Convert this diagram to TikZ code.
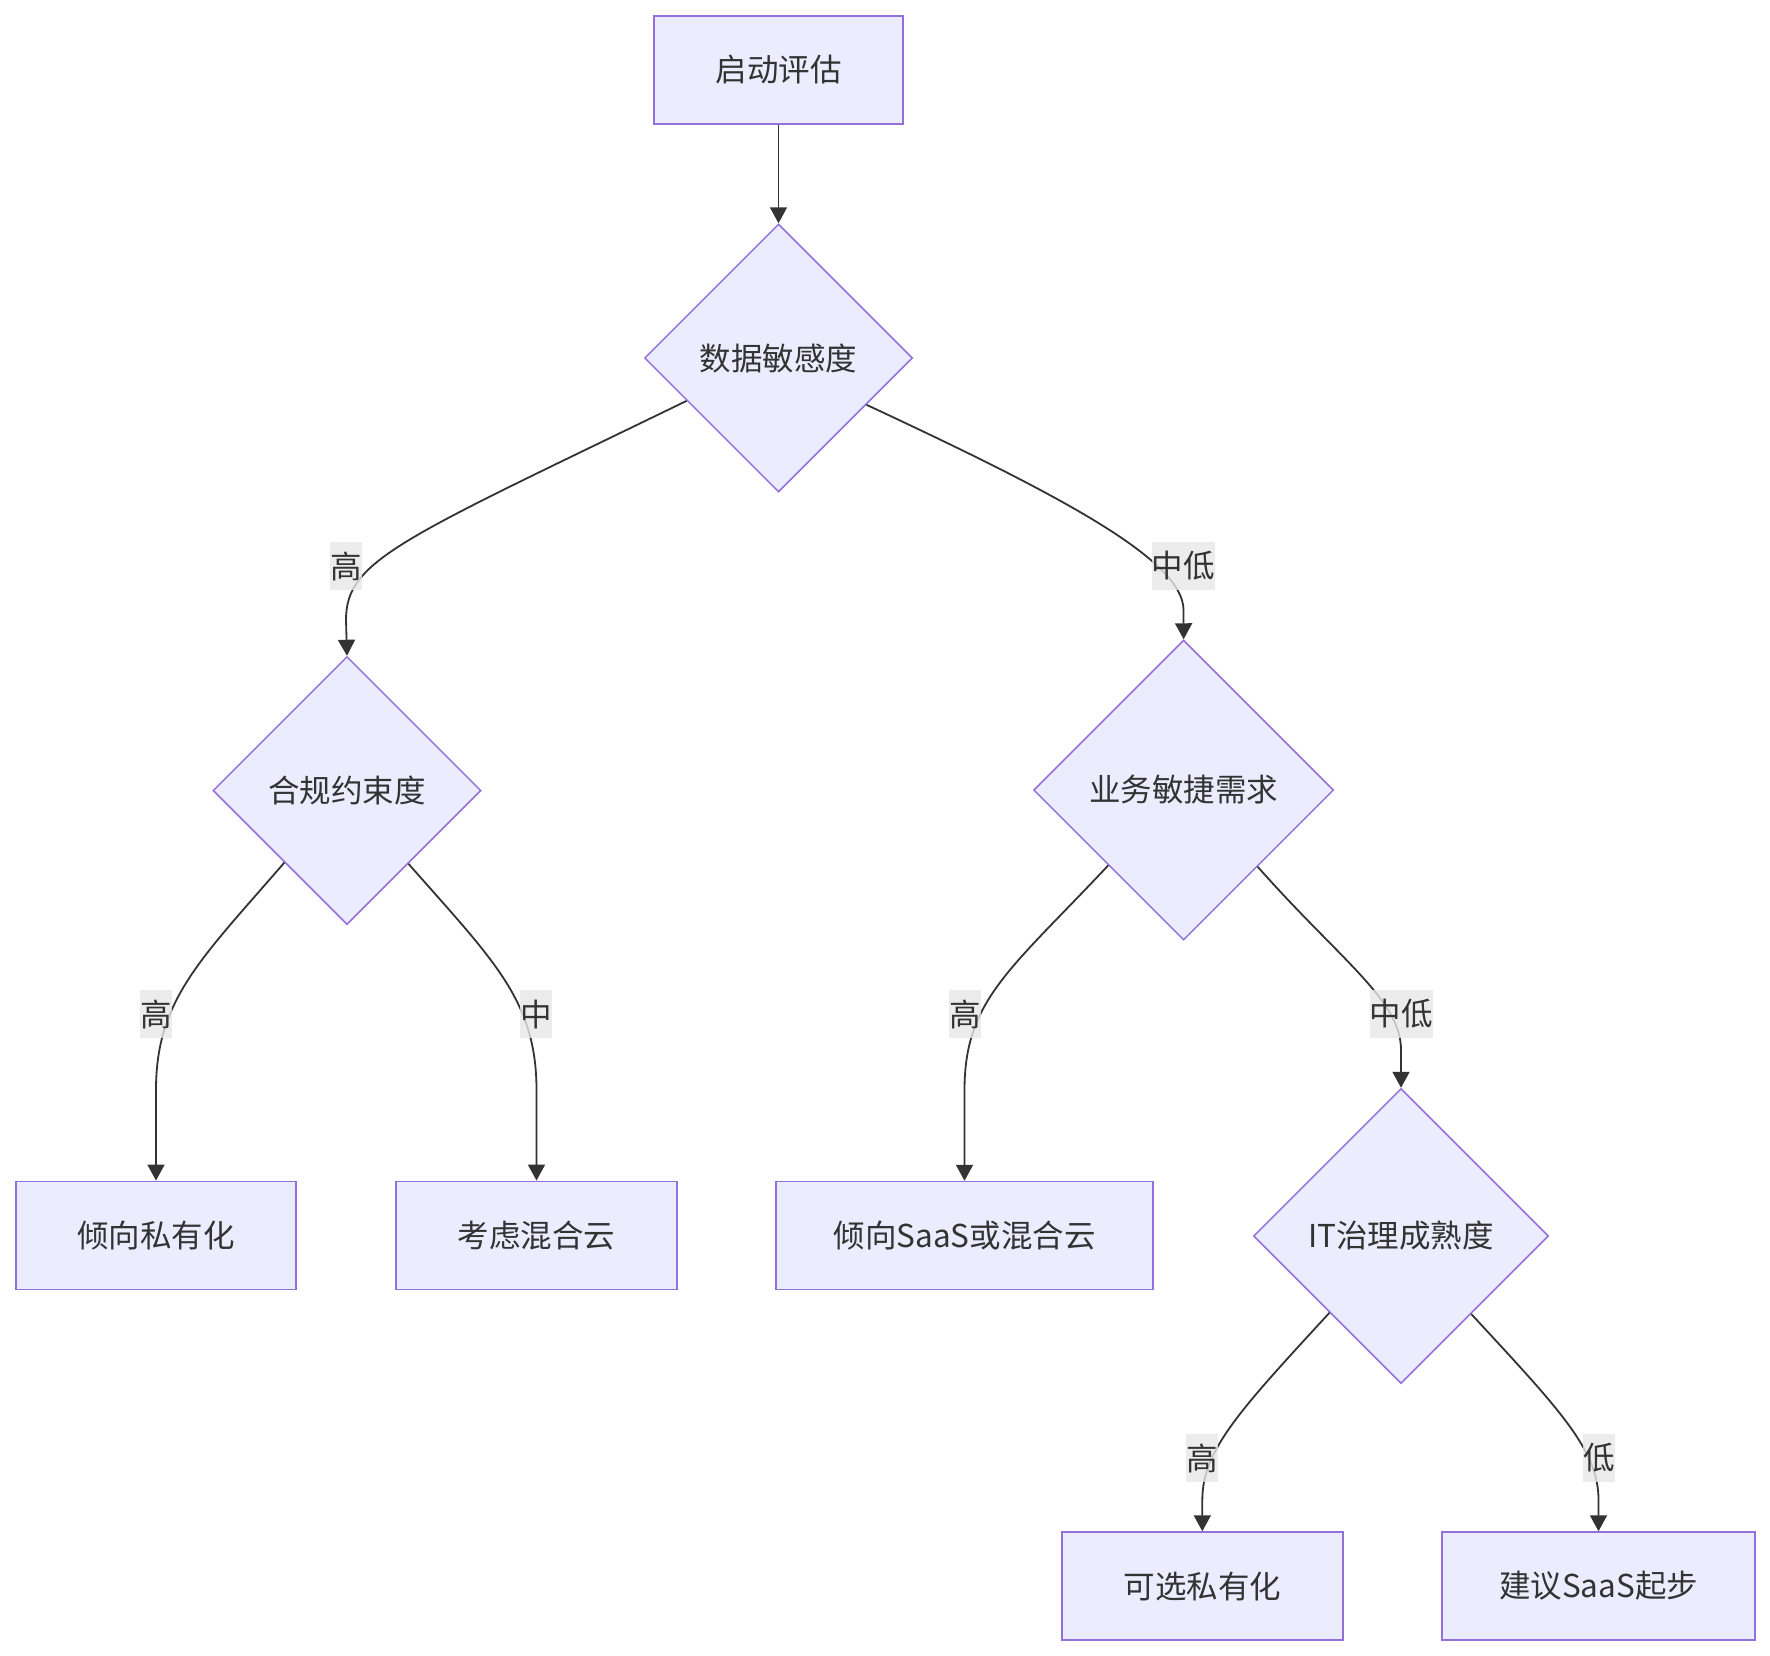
\documentclass[tikz,border=0pt]{standalone}
\usepackage{fontspec}
\setmainfont{Noto Sans CJK SC}
\usetikzlibrary{shapes.geometric,arrows.meta}
\definecolor{nodefill}{HTML}{ECECFF}
\definecolor{nodeline}{HTML}{9370DB}
\definecolor{edgecol}{HTML}{333333}
\definecolor{lblbg}{HTML}{E8E8E8}
\begin{document}
\begin{tikzpicture}[x=0.5pt,y=-0.5pt,
  every node/.style={font=\fontsize{15.75pt}{18pt}\selectfont, text=edgecol},
  procbox/.style={draw=nodeline, fill=nodefill, line width=0.75pt, minimum height=54pt, inner sep=0pt},
  decision/.style={diamond, draw=nodeline, fill=nodefill, line width=0.75pt, inner sep=0pt, aspect=1},
  edgelbl/.style={fill=lblbg, fill opacity=0.8, text opacity=1, inner sep=0pt, minimum height=24pt, minimum width=16pt},
  flow/.style={draw=edgecol, line width=0.9pt, -{Triangle[length=8pt,width=8.5pt]}}
]
\useasboundingbox (0,0) rectangle (1770,1655);
\fill[white] (0,0) rectangle (1770,1655);

% nodes
\node[procbox, minimum width=124.5pt] (start) at (778.5,70) {启动评估};
\node[decision, minimum width=134pt, minimum height=134pt] (d1) at (778.5,358) {数据敏感度};
\node[decision, minimum width=134pt, minimum height=134pt] (d2) at (347,790.5) {合规约束度};
\node[decision, minimum width=150pt, minimum height=150pt] (d3) at (1183.6,790) {业务敏捷需求};
\node[decision, minimum width=147.5pt, minimum height=147.5pt] (d4) at (1401,1236) {IT治理成熟度};
\node[procbox, minimum width=140pt] (b1) at (156,1235.3) {倾向私有化};
\node[procbox, minimum width=140.5pt] (b2) at (536.5,1235.3) {考虑混合云};
\node[procbox, minimum width=188.5pt] (b3) at (964.5,1235.5) {倾向SaaS或混合云};
\node[procbox, minimum width=140.5pt] (b4) at (1202.3,1586) {可选私有化};
\node[procbox, minimum width=156.5pt] (b5) at (1598.5,1586) {建议SaaS起步};

% connectors
\draw[flow] (start.south) -- (d1.north);
\draw[flow] (d1.205.6) .. controls (400,540) and (346,560) .. (346,620) -- (d2.north);
\draw[flow] (d1.332.7) .. controls (1060,495) and (1183.5,560) .. (1183.5,610) -- (d3.north);
\draw[flow] (d2.229) .. controls (200,960) and (156,1000) .. (156,1090) -- (b1.north);
\draw[flow] (d2.310.5) .. controls (493,960) and (536.5,1000) .. (536.5,1090) -- (b2.north);
\draw[flow] (d3.225.2) .. controls (1010,970) and (964.5,1000) .. (964.5,1090) -- (b3.north);
\draw[flow] (d3.314) .. controls (1340,960) and (1401,1000) .. (1401,1050) -- (d4.north);
\draw[flow] (d4.227.7) .. controls (1240,1410) and (1202.3,1450) .. (1202.3,1500) -- (b4.north);
\draw[flow] (d4.312.3) .. controls (1560,1410) and (1598.5,1450) .. (1598.5,1500) -- (b5.north);

% edge labels
\node[edgelbl] (l1) at (346,566) {高};
\node[edgelbl] (l2) at (1183,566) {中低};
\node[edgelbl] (l3) at (156,1014) {高};
\node[edgelbl] (l4) at (536,1014) {中};
\node[edgelbl] (l5) at (965,1014) {高};
\node[edgelbl] (l6) at (1401,1014) {中低};
\node[edgelbl] (l7) at (1202,1458) {高};
\node[edgelbl] (l8) at (1599,1458) {低};
\end{tikzpicture}
\end{document}
